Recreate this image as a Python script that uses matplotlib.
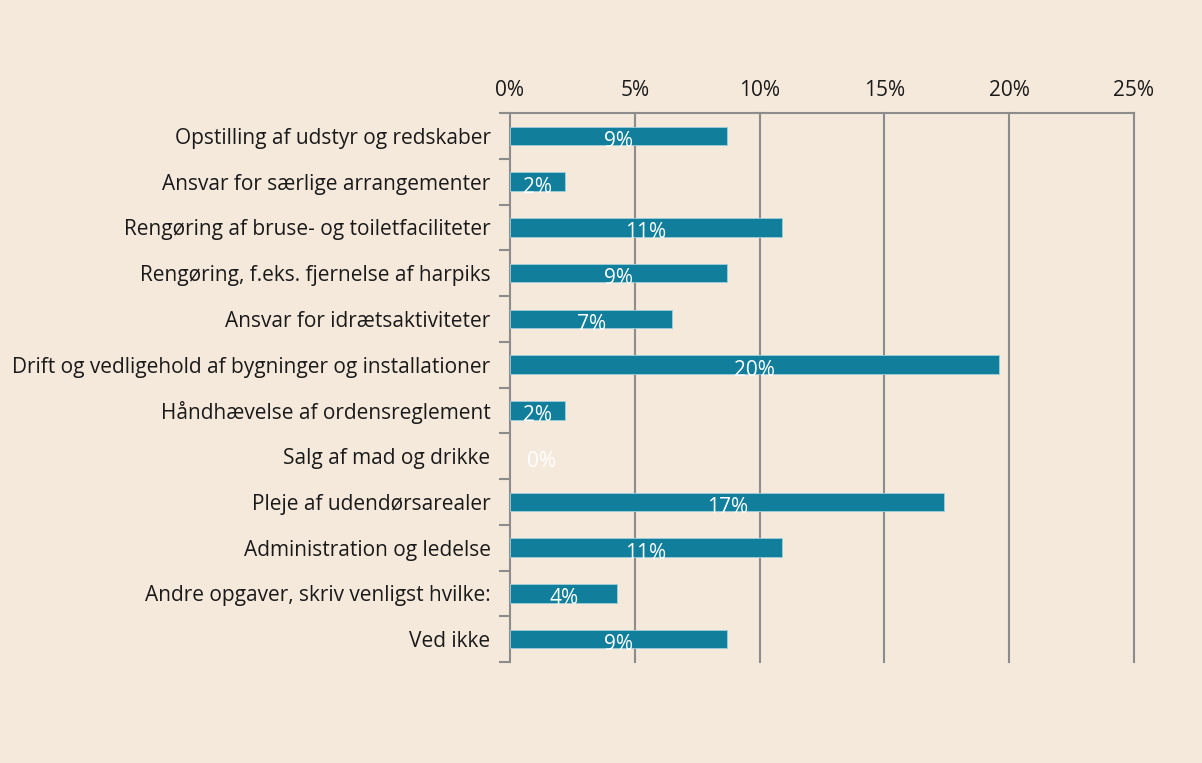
import matplotlib.pyplot as plt
from matplotlib.ticker import PercentFormatter, MultipleLocator

plt.rcParams['font.family'] = ['Open Sans', 'DejaVu Sans']

kategorier = ['Opstilling af udstyr og redskaber',
              'Ansvar for særlige arrangementer',
              'Rengøring af bruse- og toiletfaciliteter',
              'Rengøring, f.eks. fjernelse af harpiks',
              'Ansvar for idrætsaktiviteter',
              'Drift og vedligehold af bygninger og installationer',
              'Håndhævelse af ordensreglement',
              'Salg af mad og drikke',
              'Pleje af udendørsarealer',
              'Administration og ledelse',
              'Andre opgaver, skriv venligst hvilke:',
              'Ved ikke']
andel = [0.087, 0.022, 0.109, 0.087, 0.065, 0.196, 0.022, 0.0, 0.174, 0.109, 0.043, 0.087]
etiketter = ['9%', '2%', '11%', '9%', '7%', '20%', '2%', '0%', '17%', '11%', '4%', '9%']

bg = '#F5E9DC'
grey = '#8C8C8C'
fig = plt.figure(figsize=(12.02, 7.63), dpi=100, facecolor=bg)
ax = fig.add_axes([510/1202, 1-662/763, 624/1202, 549/763])
ax.set_facecolor(bg)

y = range(len(kategorier))
kanter = ['#9FCFDB' if v > 0 else 'none' for v in andel]
ax.barh(y, andel, height=0.4, color='#117E9B', edgecolor=kanter, linewidth=0.6, zorder=3)
for i, (v, t) in enumerate(zip(andel, etiketter)):
    xpos = v / 2 if v > 0 else 0.0125
    ax.text(xpos, i + 0.12, t, color='white', ha='center', va='center', fontsize=15, zorder=4)

ax.set_xlim(0, 0.25)
ax.set_ylim(len(kategorier) - 0.5, -0.5)
ax.xaxis.set_major_locator(MultipleLocator(0.05))
ax.xaxis.set_major_formatter(PercentFormatter(1.0, decimals=0))
ax.xaxis.tick_top()
ax.tick_params(axis='x', length=0, pad=9, labelsize=15, colors='#1a1a1a')
ax.set_yticks([i - 0.5 for i in range(len(kategorier) + 1)], minor=False)
ax.set_yticklabels([])
ax.set_yticks(list(y), minor=True)
ax.set_yticklabels(kategorier, minor=True)
ax.tick_params(axis='y', which='major', length=8, width=1.5, color=grey, direction='out')
ax.tick_params(axis='y', which='minor', length=0, pad=14, labelsize=15, labelcolor='#1a1a1a')
for xv in [0.05, 0.10, 0.15, 0.20, 0.25]:
    ax.axvline(xv, color=grey, linewidth=1.5, zorder=0, clip_on=False)
for s in ['right', 'bottom']:
    ax.spines[s].set_visible(False)
for s in ['left', 'top']:
    ax.spines[s].set_color(grey)
    ax.spines[s].set_linewidth(1.5)

fig.savefig('out.png', dpi=100, facecolor=bg)
